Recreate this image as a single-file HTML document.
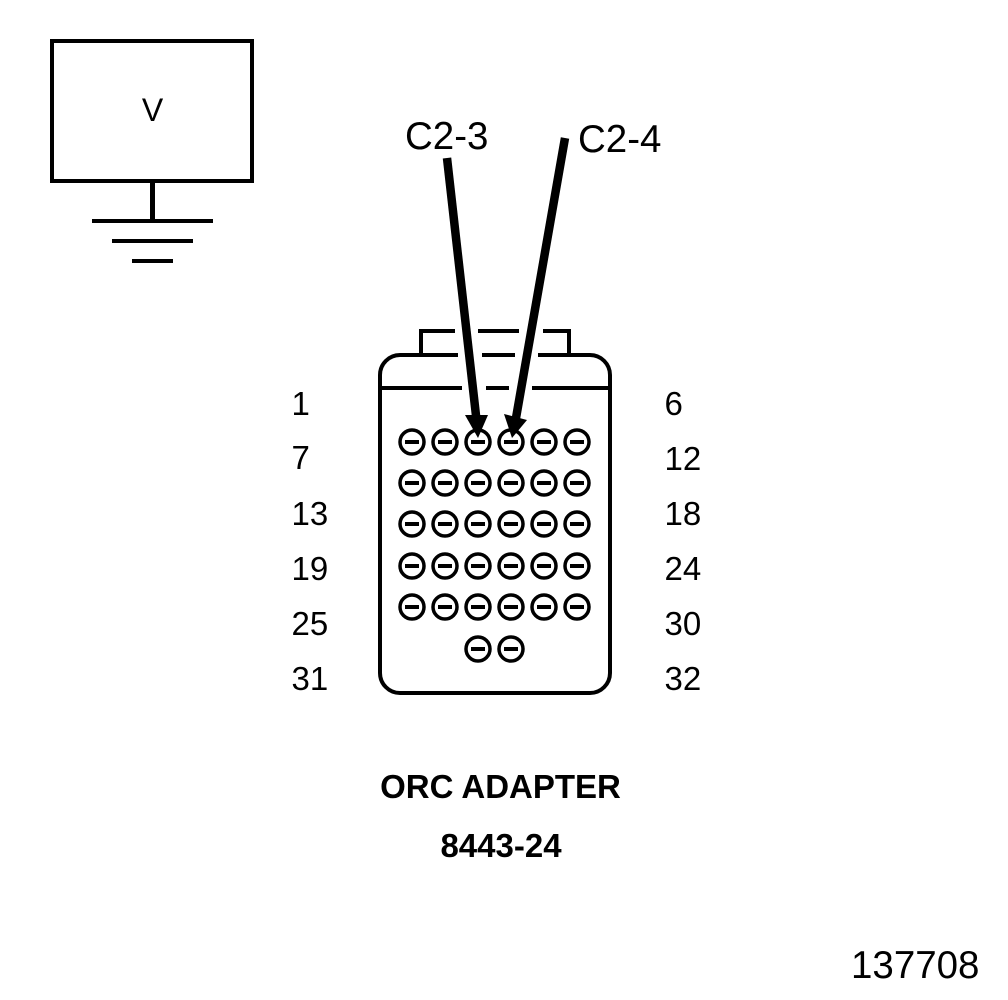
<!DOCTYPE html>
<html><head><meta charset="utf-8"><style>
html,body{margin:0;padding:0;background:#fff}
svg{display:block}
text{font-family:"Liberation Sans",Arial,sans-serif;fill:#000}
</style></head><body>
<svg width="1008" height="1000" viewBox="0 0 1008 1000" xmlns="http://www.w3.org/2000/svg">
<rect width="1008" height="1000" fill="#fff"/>
<g fill="none" stroke="#000" stroke-width="4">
<rect x="52" y="41" width="200" height="140"/>
<path d="M152.500 181V221" stroke-width="5"/>
<path d="M92 221H213M112 241H193M132 261H173"/>
<rect x="380" y="355" width="230" height="338" rx="20" ry="20"/>
<path d="M421 355V331H569V355"/>
<path d="M380 388H610"/>
</g>
<path d="M455 326H478V336H455ZM519 326H543V336H519ZM458 350H482V360H458ZM515 350H538V360H515ZM462 383H486V393H462ZM509 383H532V393H509Z" fill="#fff"/>
<g fill="none" stroke="#000" stroke-width="3.500">
<circle cx="412" cy="442" r="12"/><circle cx="445" cy="442" r="12"/><circle cx="478" cy="442" r="12"/><circle cx="511" cy="442" r="12"/><circle cx="544" cy="442" r="12"/><circle cx="577" cy="442" r="12"/>
<circle cx="412" cy="483" r="12"/><circle cx="445" cy="483" r="12"/><circle cx="478" cy="483" r="12"/><circle cx="511" cy="483" r="12"/><circle cx="544" cy="483" r="12"/><circle cx="577" cy="483" r="12"/>
<circle cx="412" cy="524" r="12"/><circle cx="445" cy="524" r="12"/><circle cx="478" cy="524" r="12"/><circle cx="511" cy="524" r="12"/><circle cx="544" cy="524" r="12"/><circle cx="577" cy="524" r="12"/>
<circle cx="412" cy="566" r="12"/><circle cx="445" cy="566" r="12"/><circle cx="478" cy="566" r="12"/><circle cx="511" cy="566" r="12"/><circle cx="544" cy="566" r="12"/><circle cx="577" cy="566" r="12"/>
<circle cx="412" cy="607" r="12"/><circle cx="445" cy="607" r="12"/><circle cx="478" cy="607" r="12"/><circle cx="511" cy="607" r="12"/><circle cx="544" cy="607" r="12"/><circle cx="577" cy="607" r="12"/>
<circle cx="478" cy="649" r="12"/><circle cx="511" cy="649" r="12"/>
</g>
<path stroke="#000" stroke-width="4" fill="none" d="M405 442h14M438 442h14M471 442h14M504 442h14M537 442h14M570 442h14M405 483h14M438 483h14M471 483h14M504 483h14M537 483h14M570 483h14M405 524h14M438 524h14M471 524h14M504 524h14M537 524h14M570 524h14M405 566h14M438 566h14M471 566h14M504 566h14M537 566h14M570 566h14M405 607h14M438 607h14M471 607h14M504 607h14M537 607h14M570 607h14M471 649h14M504 649h14"/>
<path d="M447 158L476.500 420" stroke="#000" stroke-width="8.500" fill="none"/>
<path d="M565 138L516 418" stroke="#000" stroke-width="8.500" fill="none"/>
<path d="M465 415L488 415L478 438Z" fill="#000"/>
<path d="M504 414L527 420L512 438Z" fill="#000"/>
<text x="152.500" y="121" font-size="32" text-anchor="middle">V</text>
<text x="405" y="149" font-size="38.500">C2-3</text>
<text x="578" y="152" font-size="38.500">C2-4</text>
<g font-size="33">
<text x="291.500" y="415">1</text><text x="291.500" y="469">7</text><text x="291.500" y="525">13</text><text x="291.500" y="580">19</text><text x="291.500" y="635">25</text><text x="291.500" y="690">31</text>
<text x="664.500" y="415">6</text><text x="664.500" y="470">12</text><text x="664.500" y="525">18</text><text x="664.500" y="580">24</text><text x="664.500" y="635">30</text><text x="664.500" y="690">32</text>
</g>
<g font-size="33" font-weight="bold" text-anchor="middle">
<text x="500.500" y="798">ORC ADAPTER</text>
<text x="501" y="857">8443-24</text>
</g>
<text x="851" y="978" font-size="38.500">137708</text>
</svg>
</body></html>
